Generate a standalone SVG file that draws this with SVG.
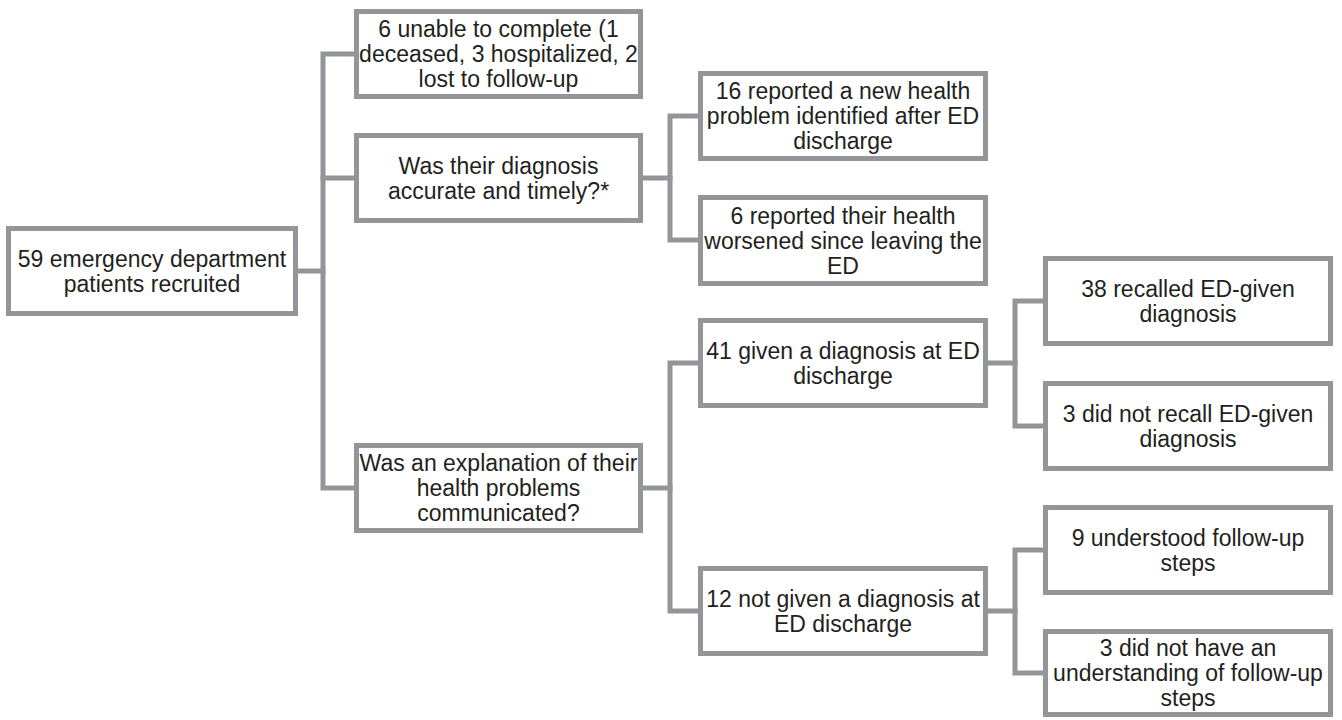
<svg xmlns="http://www.w3.org/2000/svg" width="1342" height="720" viewBox="0 0 1342 720">
<style>
.box{fill:#ffffff;stroke:#939598;stroke-width:5}
.t{font-family:"Liberation Sans",Arial,sans-serif;font-size:23px;fill:#231f20;text-anchor:middle}
.c{fill:none;stroke:#939598;stroke-width:5;stroke-linejoin:miter;stroke-linecap:square}
</style>
<rect width="1342" height="720" fill="#ffffff"/>
<g id="connectors">
<path class="c" d="M298,271 H323"/>
<path class="c" d="M356,54 H323 V488 H356"/>
<path class="c" d="M323,178 H356"/>
<path class="c" d="M641,178 H670"/>
<path class="c" d="M700,116 H670 V240 H700"/>
<path class="c" d="M641,488 H670"/>
<path class="c" d="M700,363 H670 V611 H700"/>
<path class="c" d="M986,363 H1015"/>
<path class="c" d="M1045,301 H1015 V426 H1045"/>
<path class="c" d="M986,611 H1015"/>
<path class="c" d="M1045,550 H1015 V673 H1045"/>
</g>
<g id="root">
<rect class="box" x="8.5" y="228.5" width="287" height="85"/>
<text class="t" x="152" y="267">59 emergency department</text>
<text class="t" x="152" y="292">patients recruited</text>
</g>
<g id="unable">
<rect class="box" x="356.5" y="11.5" width="284" height="85"/>
<text class="t" x="498.5" y="37">6 unable to complete (1</text>
<text class="t" x="498.5" y="62">deceased, 3 hospitalized, 2</text>
<text class="t" x="498.5" y="87">lost to follow-up</text>
</g>
<g id="accurate">
<rect class="box" x="356.5" y="135.5" width="284" height="85"/>
<text class="t" x="498.5" y="173.5">Was their diagnosis</text>
<text class="t" x="498.5" y="198.5">accurate and timely?*</text>
</g>
<g id="explanation">
<rect class="box" x="356.5" y="445.5" width="284" height="85"/>
<text class="t" x="498.5" y="471">Was an explanation of their</text>
<text class="t" x="498.5" y="496">health problems</text>
<text class="t" x="498.5" y="521">communicated?</text>
</g>
<g id="newproblem">
<rect class="box" x="700.5" y="73.5" width="285" height="85"/>
<text class="t" x="843" y="99">16 reported a new health</text>
<text class="t" x="843" y="124">problem identified after ED</text>
<text class="t" x="843" y="149">discharge</text>
</g>
<g id="worsened">
<rect class="box" x="700.5" y="197.5" width="285" height="86"/>
<text class="t" x="843" y="223.5">6 reported their health</text>
<text class="t" x="843" y="248.5">worsened since leaving the</text>
<text class="t" x="843" y="273.5">ED</text>
</g>
<g id="given">
<rect class="box" x="700.5" y="320.5" width="285" height="85"/>
<text class="t" x="843" y="358.5">41 given a diagnosis at ED</text>
<text class="t" x="843" y="383.5">discharge</text>
</g>
<g id="notgiven">
<rect class="box" x="700.5" y="568.5" width="285" height="85"/>
<text class="t" x="843" y="606.5">12 not given a diagnosis at</text>
<text class="t" x="843" y="631.5">ED discharge</text>
</g>
<g id="recalled">
<rect class="box" x="1045.5" y="258.5" width="285" height="85"/>
<text class="t" x="1188" y="296.5">38 recalled ED-given</text>
<text class="t" x="1188" y="321.5">diagnosis</text>
</g>
<g id="notrecalled">
<rect class="box" x="1045.5" y="383.5" width="285" height="85"/>
<text class="t" x="1188" y="421.5">3 did not recall ED-given</text>
<text class="t" x="1188" y="446.5">diagnosis</text>
</g>
<g id="understood">
<rect class="box" x="1045.5" y="507.5" width="285" height="85"/>
<text class="t" x="1188" y="545.5">9 understood follow-up</text>
<text class="t" x="1188" y="570.5">steps</text>
</g>
<g id="notunderstood">
<rect class="box" x="1045.5" y="631.5" width="285" height="83"/>
<text class="t" x="1188" y="656">3 did not have an</text>
<text class="t" x="1188" y="681">understanding of follow-up</text>
<text class="t" x="1188" y="706">steps</text>
</g>
</svg>
